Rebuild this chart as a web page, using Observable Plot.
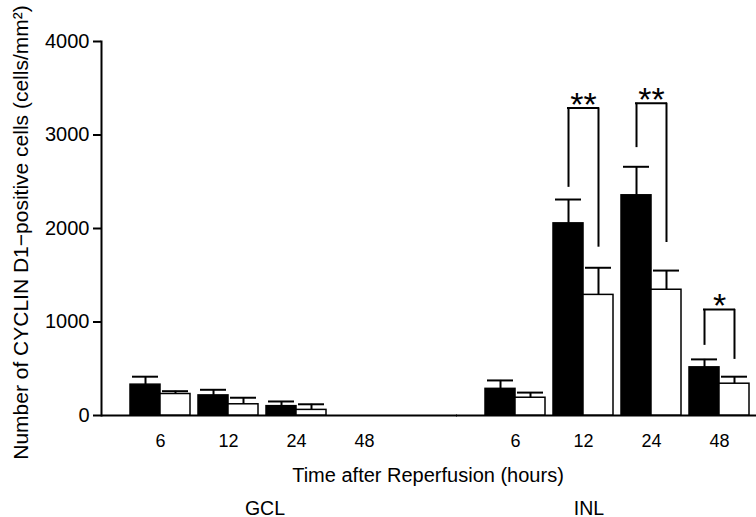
<!DOCTYPE html>
<html>
<head>
<meta charset="utf-8">
<script src="https://cdn.jsdelivr.net/npm/d3@7"></script>
<script src="https://cdn.jsdelivr.net/npm/@observablehq/plot@0.6"></script>
<style>
  html, body { margin: 0; padding: 0; background: #fff; }
  #chart svg { display: block; }
</style>
</head>
<body>
<div id="chart"></div>
<script>
// Retinal layers and time points after reperfusion
const layers = ["GCL", "INL"];
const hours = ["6", "12", "24", "48"];
const yTicks = [0, 1000, 2000, 3000, 4000];

// Filled bars: mean and SE (cells/mm²)
const filledMeanGCL = [330, 215, 100, 0];
const filledSeGCL   = [85, 60, 50, 0];
const filledMeanINL = [285, 2055, 2355, 515];
const filledSeINL   = [90, 255, 305, 85];

// Open bars: mean and SE (cells/mm²)
const openMeanGCL = [230, 120, 60, 0];
const openSeGCL   = [30, 70, 60, 0];
const openMeanINL = [190, 1290, 1345, 340];
const openSeINL   = [55, 290, 205, 75];

// Significance brackets (INL): bracket top, left leg foot, right leg foot
const sigHours = ["12", "24", "48"];
const sigTop   = [3290, 3340, 1135];
const sigLeft  = [2440, 2865, 750];
const sigRight = [1800, 1850, 600];
const sigLabel = ["**", "**", "*"];

const yTitle = "Number of CYCLIN D1\u2212positive cells (cells/mm\u00B2)";
const xTitle = "Time after Reperfusion (hours)";

const rows = [];
hours.forEach((h, i) => {
  rows.push({layer: "GCL", hour: h, filled: filledMeanGCL[i], filledSe: filledSeGCL[i], open: openMeanGCL[i], openSe: openSeGCL[i]});
});
hours.forEach((h, i) => {
  rows.push({layer: "INL", hour: h, filled: filledMeanINL[i], filledSe: filledSeINL[i], open: openMeanINL[i], openSe: openSeINL[i]});
});
const sig = sigHours.map((h, i) => ({layer: "INL", hour: h, top: sigTop[i], left: sigLeft[i], right: sigRight[i], label: sigLabel[i]}));

// Layout of the time bands inside each layer panel
const xRange = [125, 397];
const xPadInner = 0.118, xPadOuter = 0.059;
const bw = d3.scaleBand(hours, xRange).paddingInner(xPadInner).paddingOuter(xPadOuter).bandwidth();
const capHalf = 13;
const font = "'Liberation Sans', Arial, Helvetica, sans-serif";

const withFilledErr = rows.filter(d => d.filledSe > 0);
const withOpenErr = rows.filter(d => d.openSe > 0);

const chart = Plot.plot({
  width: 756,
  height: 517,
  marginLeft: 100,
  marginRight: 3,
  marginTop: 41,
  marginBottom: 102,
  style: {fontFamily: font, fontSize: "18px", color: "#000", background: "#fff"},
  fx: {domain: layers, paddingInner: 0.1657, paddingOuter: 0, axis: null, label: null},
  x: {domain: hours, range: xRange, paddingInner: xPadInner, paddingOuter: xPadOuter, label: null},
  y: {domain: [0, 4000], label: null},
  marks: [
    // baseline across both panels
    Plot.ruleY([0], {insetRight: -60, stroke: "#000", strokeWidth: 2}),
    // y axis line
    Plot.frame({anchor: "left", facetAnchor: "left", stroke: "#000", strokeWidth: 2}),
    Plot.axisY({ticks: yTicks, tickSize: 8, tickPadding: 4, tickFormat: d3.format("d"), strokeWidth: 2, fontSize: 20, label: null}),
    Plot.axisX({tickSize: 0, tickPadding: 19, fontSize: 18, label: null}),

    // bars
    Plot.barY(rows, {fx: "layer", x: "hour", y: "filled", fill: "#000", stroke: "#000", strokeWidth: 1.5, insetRight: bw / 2}),
    Plot.barY(rows, {fx: "layer", x: "hour", y: "open", fill: "#fff", stroke: "#000", strokeWidth: 1.5, insetLeft: bw / 2}),

    // error bars (upper only)
    Plot.ruleX(withFilledErr, {fx: "layer", x: "hour", y1: "filled", y2: d => d.filled + d.filledSe, dx: -bw / 4, stroke: "#000", strokeWidth: 2}),
    Plot.tickY(withFilledErr, {fx: "layer", x: "hour", y: d => d.filled + d.filledSe, insetLeft: bw / 4 - capHalf, insetRight: 3 * bw / 4 - capHalf, stroke: "#000", strokeWidth: 2}),
    Plot.ruleX(withOpenErr, {fx: "layer", x: "hour", y1: "open", y2: d => d.open + d.openSe, dx: bw / 4, stroke: "#000", strokeWidth: 2}),
    Plot.tickY(withOpenErr, {fx: "layer", x: "hour", y: d => d.open + d.openSe, insetLeft: 3 * bw / 4 - capHalf, insetRight: bw / 4 - capHalf, stroke: "#000", strokeWidth: 2}),

    // significance brackets
    Plot.ruleX(sig, {fx: "layer", x: "hour", y1: "left", y2: "top", dx: -bw / 4, stroke: "#000", strokeWidth: 2}),
    Plot.ruleX(sig, {fx: "layer", x: "hour", y1: "right", y2: "top", dx: bw / 4, stroke: "#000", strokeWidth: 2}),
    Plot.tickY(sig, {fx: "layer", x: "hour", y: "top", insetLeft: bw / 4 - 1, insetRight: bw / 4 - 1, stroke: "#000", strokeWidth: 2}),
    Plot.text(sig, {fx: "layer", x: "hour", y: "top", text: "label", dy: -3, fontSize: 34, fill: "#000"}),

    // titles
    Plot.text([{layer: "GCL"}], {fx: "layer", text: () => yTitle, frameAnchor: "left", textAnchor: "middle", rotate: -90, dx: -80, dy: 4, fontSize: 21, fill: "#000"}),
    Plot.text([{layer: "GCL"}], {fx: "layer", text: () => xTitle, frameAnchor: "bottom", dx: 178.5, dy: 66, fontSize: 20, fill: "#000"}),
    Plot.text([{layer: "GCL"}], {fx: "layer", text: "layer", frameAnchor: "bottom", dx: 15.5, dy: 99, fontSize: 19.5, fill: "#000"}),
    Plot.text([{layer: "INL"}], {fx: "layer", text: "layer", frameAnchor: "bottom", dx: -15.5, dy: 99, fontSize: 19.5, fill: "#000"})
  ]
});

document.getElementById("chart").appendChild(chart);
</script>
</body>
</html>
